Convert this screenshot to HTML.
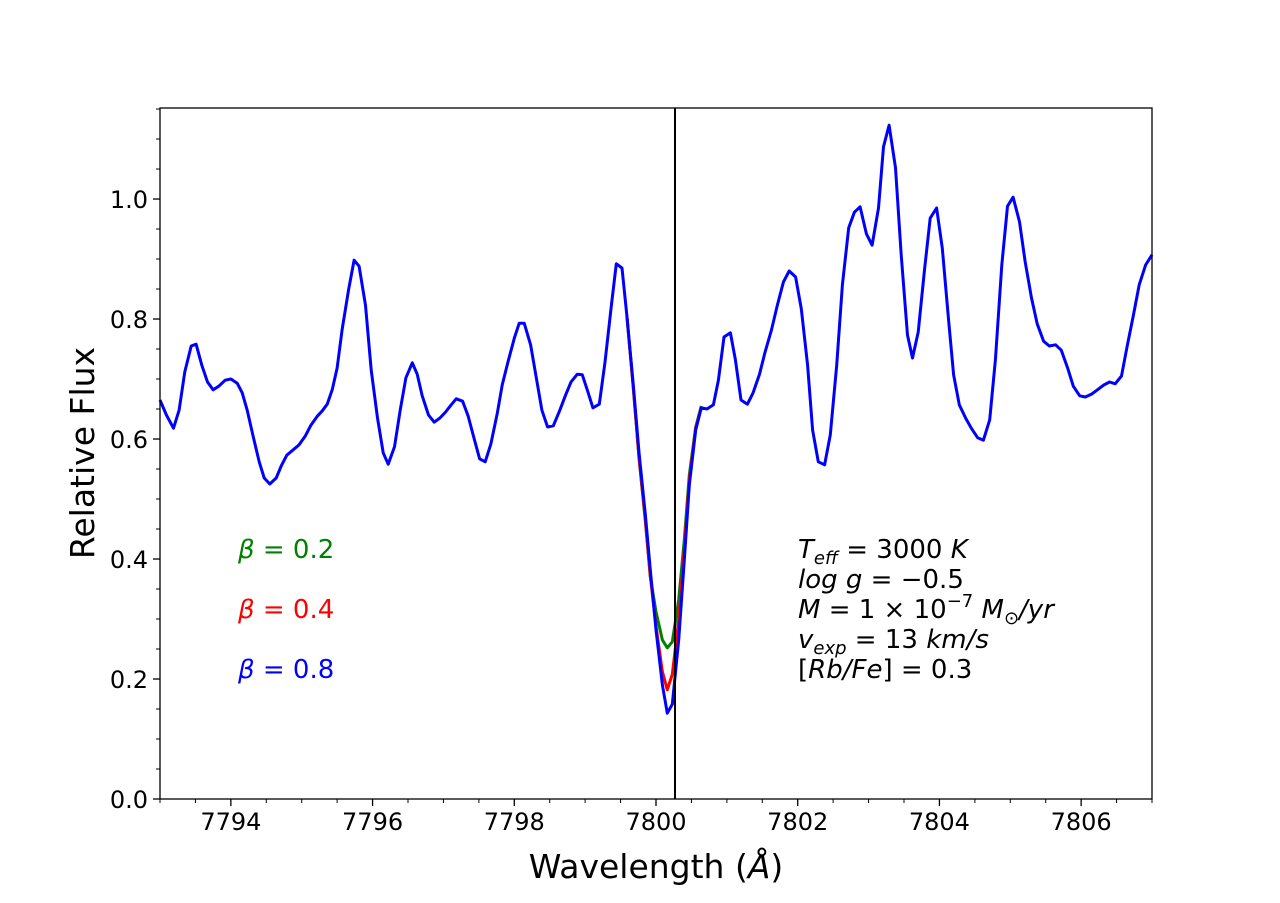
<!DOCTYPE html>
<html><head><meta charset="utf-8"><style>
body{margin:0;background:#fff;}
svg text{font-family:"DejaVu Sans","Liberation Sans",sans-serif;}
</style></head><body>
<svg id="chart" width="1280" height="898" xmlns="http://www.w3.org/2000/svg">
<rect width="1280" height="898" fill="#fff"/>
<g id="ticks"></g>
<g id="lines"></g>
<line x1="675" y1="108" x2="675" y2="799" stroke="#000" stroke-width="2"/>
<rect x="160" y="108" width="992" height="691" fill="none" stroke="#000" stroke-width="1.3"/>
<text x="656" y="878" font-size="33" text-anchor="middle">Wavelength (<tspan font-style="italic">Å</tspan>)</text>
<text transform="translate(94,453) rotate(-90)" font-size="33" text-anchor="middle">Relative Flux</text>
<g font-size="26">
<text x="238" y="558" fill="#008000"><tspan font-style="italic">β</tspan> = 0.2</text>
<text x="238" y="618" fill="#ff0000"><tspan font-style="italic">β</tspan> = 0.4</text>
<text x="238" y="678" fill="#0000ff"><tspan font-style="italic">β</tspan> = 0.8</text>
</g>
<g font-size="26" font-style="italic">
<text x="798" y="558"><tspan>T</tspan><tspan font-size="18" dy="6">eff</tspan><tspan dy="-6" font-style="normal"> = 3000 </tspan>K</text>
<text x="798" y="588">log g<tspan font-style="normal"> = −0.5</tspan></text>
<text x="798" y="618">M<tspan font-style="normal"> = 1 × 10</tspan><tspan font-style="normal" font-size="18" dy="-11">−7</tspan><tspan dy="11"> M</tspan><tspan font-style="normal" font-size="18" dy="6">⊙</tspan><tspan dy="-6">/yr</tspan></text>
<text x="798" y="648">v<tspan font-size="18" dy="6">exp</tspan><tspan dy="-6" font-style="normal"> = 13 </tspan>km/s</text>
<text x="798" y="678"><tspan font-style="normal">[</tspan>Rb/Fe<tspan font-style="normal">] = 0.3</tspan></text>
</g>
</svg>
<script>
const wavelength=[7793.00,7793.09,7793.19,7793.27,7793.35,7793.44,7793.51,7793.59,7793.67,7793.75,7793.83,7793.92,7794.00,7794.09,7794.16,7794.23,7794.31,7794.40,7794.47,7794.55,7794.64,7794.71,7794.79,7794.88,7794.96,7795.05,7795.13,7795.22,7795.29,7795.36,7795.43,7795.50,7795.57,7795.66,7795.74,7795.81,7795.90,7795.98,7796.07,7796.15,7796.22,7796.31,7796.39,7796.47,7796.56,7796.63,7796.70,7796.79,7796.87,7796.95,7797.03,7797.11,7797.18,7797.27,7797.35,7797.43,7797.51,7797.59,7797.67,7797.76,7797.83,7797.91,7798.00,7798.07,7798.14,7798.23,7798.31,7798.39,7798.47,7798.55,7798.64,7798.72,7798.80,7798.89,7798.96,7799.04,7799.11,7799.20,7799.28,7799.37,7799.44,7799.52,7799.59,7799.68,7799.76,7799.85,7799.92,7800.00,7800.09,7800.16,7800.23,7800.32,7800.40,7800.47,7800.56,7800.64,7800.72,7800.81,7800.88,7800.96,7801.05,7801.12,7801.20,7801.29,7801.37,7801.46,7801.54,7801.63,7801.71,7801.80,7801.88,7801.97,7802.05,7802.14,7802.21,7802.29,7802.38,7802.46,7802.55,7802.63,7802.72,7802.80,7802.88,7802.97,7803.05,7803.14,7803.21,7803.29,7803.38,7803.46,7803.55,7803.62,7803.70,7803.79,7803.87,7803.96,7804.04,7804.13,7804.20,7804.28,7804.37,7804.45,7804.54,7804.62,7804.71,7804.79,7804.88,7804.96,7805.04,7805.13,7805.21,7805.30,7805.38,7805.47,7805.55,7805.64,7805.72,7805.81,7805.89,7805.98,7806.06,7806.15,7806.23,7806.32,7806.40,7806.48,7806.57,7806.65,7806.74,7806.82,7806.91,7807.00];
const fluxBeta08=[0.665,0.640,0.618,0.648,0.712,0.755,0.758,0.723,0.695,0.682,0.688,0.698,0.700,0.693,0.677,0.648,0.607,0.562,0.535,0.525,0.535,0.555,0.573,0.582,0.590,0.605,0.623,0.638,0.647,0.658,0.682,0.718,0.782,0.848,0.898,0.888,0.823,0.715,0.635,0.577,0.558,0.587,0.648,0.702,0.727,0.708,0.672,0.640,0.628,0.635,0.645,0.657,0.667,0.663,0.638,0.602,0.567,0.562,0.592,0.643,0.690,0.728,0.768,0.793,0.793,0.757,0.702,0.648,0.620,0.622,0.647,0.672,0.695,0.708,0.707,0.678,0.652,0.658,0.728,0.823,0.892,0.885,0.805,0.690,0.578,0.473,0.382,0.282,0.190,0.143,0.158,0.265,0.398,0.523,0.615,0.652,0.650,0.657,0.698,0.770,0.777,0.732,0.665,0.658,0.677,0.708,0.745,0.782,0.822,0.862,0.880,0.870,0.817,0.723,0.615,0.562,0.557,0.607,0.723,0.857,0.952,0.978,0.987,0.942,0.923,0.985,1.087,1.123,1.052,0.907,0.773,0.735,0.778,0.882,0.968,0.985,0.918,0.798,0.707,0.657,0.635,0.618,0.602,0.598,0.632,0.732,0.890,0.988,1.003,0.962,0.895,0.835,0.792,0.763,0.755,0.757,0.748,0.718,0.688,0.672,0.670,0.675,0.682,0.690,0.695,0.692,0.705,0.755,0.808,0.857,0.890,0.907];
const dipWavelength=[7799.59,7799.68,7799.76,7799.85,7799.92,7800.00,7800.09,7800.16,7800.23,7800.32,7800.40,7800.47,7800.56,7800.64];
const fluxBeta02=[0.805,0.685,0.568,0.462,0.370,0.312,0.265,0.252,0.262,0.332,0.432,0.540,0.620,0.655];
const fluxBeta04=[0.805,0.686,0.570,0.465,0.372,0.288,0.212,0.182,0.208,0.298,0.415,0.532,0.618,0.653];
const xTicks=[7794,7796,7798,7800,7802,7804,7806];
const yTicks=[0.0,0.2,0.4,0.6,0.8,1.0];
const xMin=7793,xMax=7807,yMin=0,yMax=1.1517;
const L=160,R=1152,T=108,B=799;
const sx=v=>L+(v-xMin)/(xMax-xMin)*(R-L);
const sy=v=>B-(v-yMin)/(yMax-yMin)*(B-T);
const NS='http://www.w3.org/2000/svg';
const tg=document.getElementById('ticks'),lg=document.getElementById('lines');
function mk(tag,attrs,parent){const e=document.createElementNS(NS,tag);for(const k in attrs)e.setAttribute(k,attrs[k]);parent.appendChild(e);return e;}
xTicks.forEach(v=>{
  const l=mk('line',{x1:sx(v),x2:sx(v),y1:B,y2:B+7,stroke:'#000','stroke-width':1.3},tg);
  
  
  const t=mk('text',{x:sx(v),y:B+31,'font-size':24,'text-anchor':'middle'},tg);
  t.textContent=v;
  
  
});
for(let v=7793;v<=7807.001;v+=0.5){if(Math.abs(v-Math.round(v))<0.01&&xTicks.includes(Math.round(v)))continue;
  const l=mk('line',{x1:sx(v),x2:sx(v),y1:B,y2:B+4,stroke:'#000','stroke-width':1},tg);
  
  }
yTicks.forEach(v=>{
  const l=mk('line',{x1:L-7,x2:L,y1:sy(v),y2:sy(v),stroke:'#000','stroke-width':1.3},tg);
  
  
  const t=mk('text',{x:L-12,y:sy(v)+9,'font-size':24,'text-anchor':'end'},tg);
  t.textContent=v.toFixed(1);
  
  
});
for(let i=1;i<=23;i++){const v=i*0.05;if(i%4===0)continue;
  const l=mk('line',{x1:L-4,x2:L,y1:sy(v),y2:sy(v),stroke:'#000','stroke-width':1},tg);
  
  }
function path(xs,ys,color,name){
  const d=xs.map((x,i)=>(i?'L':'M')+sx(x).toFixed(1)+','+sy(ys[i]).toFixed(1)).join('');
  const p=mk('path',{d:d,fill:'none',stroke:color,'stroke-width':3,'stroke-linejoin':'round'},lg);
  
  
}
path(dipWavelength,fluxBeta02,'#008000','series-beta-0.2');
path(dipWavelength,fluxBeta04,'#ff0000','series-beta-0.4');
path(wavelength,fluxBeta08,'#0000ff','series-beta-0.8');
</script>
</body></html>
